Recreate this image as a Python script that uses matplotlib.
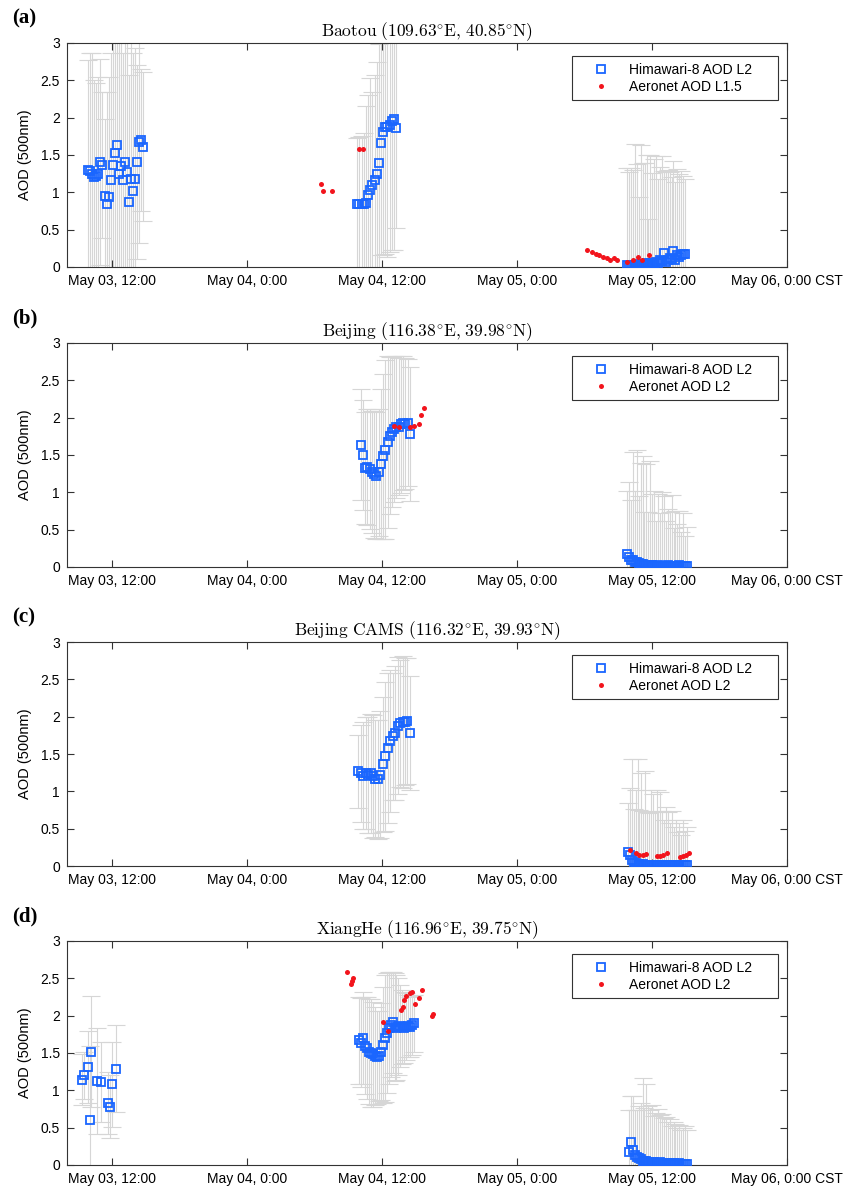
import numpy as np
import pandas as pd
import matplotlib
matplotlib.use("Agg")
import matplotlib.pyplot as plt

plt.rcParams['font.family'] = ['Liberation Sans', 'DejaVu Sans']
plt.rcParams['mathtext.fontset'] = 'cm'

hw_color = '#1a66ff'
ae_color = '#f2141c'
bar_color = '#d6d6d6'

# ---- (a) Baotou ----
a_hw1_span = ("2017-05-03 09:53", "2017-05-03 14:47")
a_hw1_aod = [1.30, 1.28, 1.25, 1.20, 1.22, 1.25, 1.41, 1.37, 0.95, 0.84, 0.94, 1.16, 1.37, 1.53,
             1.64, 1.25, 1.35, 1.16, 1.41, 1.27, 0.87, 1.18, 1.02, 1.18, 1.41, 1.67, 1.70, 1.61]
a_hw1_err = [1.47, 1.58, 1.61, 1.30, 1.25, 1.30, 1.38, 0.98, 1.03, 1.50, 1.60, 1.70, 1.80, 1.70,
             1.65, 1.90, 1.80, 1.70, 1.75, 1.80, 1.70, 1.90, 1.85, 1.75, 1.30, 1.35, 0.95, 1.00]
a_hw2_span = ("2017-05-04 09:48", "2017-05-04 13:15")
a_hw2_aod = [0.84, 0.84, 0.84, 0.85, 0.86, 0.96, 1.03, 1.10, 1.17, 1.25, 1.39, 1.66, 1.81, 1.87,
             1.88, 1.90, 1.95, 1.98, 1.86]
a_hw2_err = [0.89, 0.90, 0.92, 0.95, 1.30, 1.35, 1.50, 1.25, 1.40, 1.50, 1.60, 1.50, 1.65, 1.70,
             1.75, 1.70, 1.72, 1.75, 1.34]
a_hw3_span = ("2017-05-05 09:48", "2017-05-05 14:56")
a_hw3_aod = [0.03, 0.02, 0.03, 0.02, 0.03, 0.03, 0.04, 0.03, 0.04, 0.04, 0.05, 0.04, 0.05, 0.06,
             0.05, 0.07, 0.06, 0.09, 0.08, 0.19, 0.07, 0.10, 0.12, 0.11, 0.22, 0.09, 0.16, 0.14,
             0.16, 0.17, 0.18]
a_hw3_err = [1.30, 1.25, 1.30, 1.28, 1.62, 1.35, 0.90, 1.60, 1.35, 1.35, 1.45, 0.60, 1.45, 1.20,
             1.40, 1.42, 1.12, 1.25, 1.40, 1.10, 1.20, 1.20, 1.15, 1.10, 1.20, 1.05, 1.15, 1.10,
             1.12, 1.05, 1.00]
a_ae_time = ["2017-05-04 06:35", "2017-05-04 06:47", "2017-05-04 07:32", "2017-05-04 09:57",
             "2017-05-04 10:20", "2017-05-05 06:15", "2017-05-05 06:38", "2017-05-05 07:01",
             "2017-05-05 07:19", "2017-05-05 07:37", "2017-05-05 07:58", "2017-05-05 08:16",
             "2017-05-05 08:37", "2017-05-05 08:55", "2017-05-05 09:48", "2017-05-05 10:17",
             "2017-05-05 10:47", "2017-05-05 11:05", "2017-05-05 11:46"]
a_ae_aod = [1.11, 1.02, 1.02, 1.58, 1.58, 0.23, 0.20, 0.18, 0.16, 0.13, 0.12, 0.10, 0.12, 0.09,
            0.07, 0.09, 0.13, 0.10, 0.16]

# ---- (b) Beijing ----
b_hw1_span = ("2017-05-04 10:06", "2017-05-04 14:29")
b_hw1_aod = [1.64, 1.50, 1.32, 1.34, 1.31, 1.27, 1.24, 1.22, 1.27, 1.38, 1.48, 1.57, 1.67, 1.76,
             1.81, 1.85, 1.87, 1.88, 1.91, 1.93, 1.92, 1.93, 1.78]
b_hw1_err = [0.74, 0.73, 0.75, 0.78, 0.80, 0.82, 0.85, 0.85, 0.85, 1.00, 1.10, 1.20, 1.15, 1.05,
             1.00, 0.98, 0.95, 0.92, 0.92, 0.90, 0.88, 0.85, 0.90]
b_hw2_span = ("2017-05-05 09:47", "2017-05-05 15:07")
b_hw2_aod = [0.17, 0.14, 0.10, 0.09, 0.07, 0.07, 0.05, 0.04, 0.04, 0.03, 0.03, 0.03, 0.02, 0.03,
             0.02, 0.02, 0.03, 0.02, 0.02, 0.02, 0.02, 0.03, 0.02, 0.02, 0.02, 0.02, 0.02, 0.03,
             0.02, 0.02, 0.02, 0.02]
b_hw2_err = [0.85, 1.00, 0.80, 1.45, 0.95, 1.50, 0.90, 1.35, 1.45, 0.70, 1.35, 0.70, 1.40, 0.95,
             1.00, 0.60, 0.95, 0.70, 0.98, 0.93, 0.60, 0.75, 0.72, 0.95, 0.50, 0.73, 0.55, 0.72,
             0.45, 0.70, 0.40, 0.52]
b_ae_time = ["2017-05-04 13:04", "2017-05-04 13:29", "2017-05-04 14:29", "2017-05-04 14:51",
             "2017-05-04 15:17", "2017-05-04 15:30", "2017-05-04 15:44"]
b_ae_aod = [1.89, 1.87, 1.87, 1.89, 1.92, 2.03, 2.13]

# ---- (c) Beijing CAMS ----
c_hw1_span = ("2017-05-04 09:53", "2017-05-04 14:29")
c_hw1_aod = [1.27, 1.24, 1.21, 1.25, 1.22, 1.24, 1.20, 1.17, 1.16, 1.22, 1.36, 1.47, 1.58, 1.67,
             1.74, 1.78, 1.88, 1.91, 1.93, 1.93, 1.94, 1.78]
c_hw1_err = [0.49, 0.65, 0.72, 0.75, 0.78, 0.80, 0.82, 0.78, 0.80, 0.85, 0.90, 1.00, 1.00, 0.95,
             0.85, 0.90, 0.92, 0.85, 0.88, 0.85, 0.84, 0.76]
c_hw2_span = ("2017-05-05 09:52", "2017-05-05 15:07")
c_hw2_aod = [0.19, 0.15, 0.08, 0.06, 0.04, 0.03, 0.03, 0.02, 0.03, 0.02, 0.02, 0.01, 0.02, 0.02,
             0.01, 0.02, 0.02, 0.01, 0.02, 0.02, 0.01, 0.02, 0.02, 0.01, 0.02, 0.02, 0.01, 0.02,
             0.02, 0.01, 0.02, 0.02]
c_hw2_err = [0.65, 0.90, 1.35, 0.70, 0.98, 1.40, 0.72, 1.22, 0.70, 1.25, 0.70, 0.70, 1.00, 0.95,
             0.72, 1.00, 0.70, 0.98, 0.72, 0.60, 0.78, 0.70, 0.55, 0.72, 0.50, 0.60, 0.45, 0.55,
             0.40, 0.60, 0.45, 0.50]
c_ae_time = ["2017-05-05 10:03", "2017-05-05 10:35", "2017-05-05 10:52", "2017-05-05 11:14",
             "2017-05-05 11:28", "2017-05-05 12:25", "2017-05-05 12:43", "2017-05-05 13:00",
             "2017-05-05 13:21", "2017-05-05 14:29", "2017-05-05 14:47", "2017-05-05 15:01",
             "2017-05-05 15:19"]
c_ae_aod = [0.22, 0.17, 0.15, 0.15, 0.16, 0.13, 0.13, 0.15, 0.17, 0.12, 0.13, 0.15, 0.17]

# ---- (d) XiangHe ----
d_hw1_time = ["2017-05-03 09:20", "2017-05-03 09:30", "2017-05-03 09:50", "2017-05-03 10:00",
              "2017-05-03 10:10", "2017-05-03 10:40", "2017-05-03 11:00", "2017-05-03 11:40",
              "2017-05-03 11:50", "2017-05-03 12:00", "2017-05-03 12:20"]
d_hw1_aod = [1.14, 1.20, 1.31, 0.60, 1.52, 1.13, 1.11, 0.83, 0.78, 1.08, 1.29]
d_hw1_err = [0.34, 0.32, 0.48, 1.00, 0.74, 0.71, 0.54, 0.41, 0.42, 0.57, 0.58]
d_hw2_span = ("2017-05-04 09:59", "2017-05-04 14:51")
d_hw2_aod = [1.67, 1.64, 1.70, 1.60, 1.57, 1.52, 1.50, 1.48, 1.46, 1.44, 1.46, 1.52, 1.61, 1.70,
             1.77, 1.84, 1.88, 1.91, 1.85, 1.84, 1.85, 1.86, 1.85, 1.84, 1.85, 1.86, 1.85, 1.87,
             1.90]
d_hw2_err = [0.58, 0.60, 0.62, 0.65, 0.68, 0.70, 0.72, 0.70, 0.65, 0.62, 0.60, 0.65, 0.78, 0.85,
             0.80, 0.75, 0.70, 0.68, 0.72, 0.70, 0.65, 0.55, 0.50, 0.48, 0.45, 0.42, 0.40, 0.40,
             0.38]
d_hw3_span = ("2017-05-05 09:57", "2017-05-05 15:07")
d_hw3_aod = [0.17, 0.31, 0.20, 0.14, 0.11, 0.09, 0.08, 0.06, 0.05, 0.05, 0.04, 0.04, 0.03, 0.04,
             0.03, 0.03, 0.04, 0.03, 0.03, 0.02, 0.03, 0.03, 0.02, 0.03, 0.02, 0.02, 0.03, 0.02,
             0.02, 0.02, 0.02]
d_hw3_err = [0.57, 0.62, 0.73, 0.60, 0.63, 0.70, 0.75, 1.11, 0.72, 1.03, 0.75, 0.70, 0.77, 0.62,
             0.66, 0.72, 0.63, 0.65, 0.60, 0.62, 0.55, 0.58, 0.50, 0.55, 0.53, 0.48, 0.50, 0.45,
             0.48, 0.50, 0.45]
d_ae_time = ["2017-05-04 08:55", "2017-05-04 09:13", "2017-05-04 09:18", "2017-05-04 09:27",
             "2017-05-04 12:07", "2017-05-04 12:34", "2017-05-04 13:40", "2017-05-04 13:50",
             "2017-05-04 13:57", "2017-05-04 14:08", "2017-05-04 14:29", "2017-05-04 14:38",
             "2017-05-04 14:56", "2017-05-04 15:19", "2017-05-04 15:32", "2017-05-04 16:25",
             "2017-05-04 16:32"]
d_ae_aod = [2.59, 2.42, 2.47, 2.51, 1.91, 1.80, 2.08, 2.11, 2.21, 2.26, 2.31, 2.32, 2.16, 2.24,
            2.35, 2.00, 2.02]

titles = [r"$\mathrm{Baotou\ (109.63^{\circ}E{,}\ 40.85^{\circ}N)}$",
          r"$\mathrm{Beijing\ (116.38^{\circ}E{,}\ 39.98^{\circ}N)}$",
          r"$\mathrm{Beijing\ CAMS\ (116.32^{\circ}E{,}\ 39.93^{\circ}N)}$",
          r"$\mathrm{XiangHe\ (116.96^{\circ}E{,}\ 39.75^{\circ}N)}$"]
panel_tags = ["(a)", "(b)", "(c)", "(d)"]
hw_label = "Himawari-8 AOD L2"
ae_labels = ["Aeronet AOD L1.5", "Aeronet AOD L2", "Aeronet AOD L2", "Aeronet AOD L2"]
xtick_times = ["2017-05-03 12:00", "2017-05-04 00:00", "2017-05-04 12:00",
               "2017-05-05 00:00", "2017-05-05 12:00", "2017-05-06 00:00"]
xtick_labels = ["May 03, 12:00", "May 04, 0:00", "May 04, 12:00",
                "May 05, 0:00", "May 05, 12:00", "May 06, 0:00 CST"]
yticks = [0, 0.5, 1, 1.5, 2, 2.5, 3]
ytick_labels = ["0", "0.5", "1", "1.5", "2", "2.5", "3"]


def hw_times(span, n):
    # scan times spread over the observed window of each cluster
    return pd.date_range(span[0], span[1], periods=n)


hw_sets = [
    [(hw_times(a_hw1_span, len(a_hw1_aod)), a_hw1_aod, a_hw1_err),
     (hw_times(a_hw2_span, len(a_hw2_aod)), a_hw2_aod, a_hw2_err),
     (hw_times(a_hw3_span, len(a_hw3_aod)), a_hw3_aod, a_hw3_err)],
    [(hw_times(b_hw1_span, len(b_hw1_aod)), b_hw1_aod, b_hw1_err),
     (hw_times(b_hw2_span, len(b_hw2_aod)), b_hw2_aod, b_hw2_err)],
    [(hw_times(c_hw1_span, len(c_hw1_aod)), c_hw1_aod, c_hw1_err),
     (hw_times(c_hw2_span, len(c_hw2_aod)), c_hw2_aod, c_hw2_err)],
    [(pd.to_datetime(d_hw1_time), d_hw1_aod, d_hw1_err),
     (hw_times(d_hw2_span, len(d_hw2_aod)), d_hw2_aod, d_hw2_err),
     (hw_times(d_hw3_span, len(d_hw3_aod)), d_hw3_aod, d_hw3_err)],
]
ae_sets = [(a_ae_time, a_ae_aod), (b_ae_time, b_ae_aod), (c_ae_time, c_ae_aod), (d_ae_time, d_ae_aod)]

W, H = 846, 1192
fig = plt.figure(figsize=(W / 100, H / 100), dpi=100)

ax_left, ax_w, ax_h = 67, 720, 224
ax_tops = [43, 343, 642, 941]
pad = "     "  # extra room on the right side of the legend box

for k in range(4):
    top = ax_tops[k]
    ax = fig.add_axes([ax_left / W, 1 - (top + ax_h) / H, ax_w / W, ax_h / H])

    # error bars first, in light grey
    for t, v, e in hw_sets[k]:
        ax.errorbar(t, v, yerr=e, fmt="none", ecolor=bar_color, elinewidth=0.8,
                    capsize=6.5, capthick=0.8, zorder=1)
    for i, (t, v, e) in enumerate(hw_sets[k]):
        ax.plot(t, v, "s", mfc="none", mec=hw_color, ms=6.4, mew=1.3, zorder=3,
                label=hw_label + pad if i == 0 else None)
    at, av = ae_sets[k]
    ax.plot(pd.to_datetime(at), av, "o", color=ae_color, ms=3.6, mew=0, zorder=4,
            label=ae_labels[k] + pad)

    ax.set_xlim(pd.Timestamp("2017-05-03 08:00"), pd.Timestamp("2017-05-06 00:00"))
    ax.set_ylim(0, 3)
    ax.set_xticks(pd.to_datetime(xtick_times))
    ax.set_xticklabels(xtick_labels, fontsize=10)
    ax.set_yticks(yticks)
    ax.set_yticklabels(ytick_labels, fontsize=10)
    ax.tick_params(direction="in", top=True, right=True, length=5, width=0.8,
                   color="#333333", pad=5)
    for sp in ax.spines.values():
        sp.set_color("#333333")
        sp.set_linewidth(0.8)
    ax.set_ylabel("AOD (500nm)", fontsize=10.5, labelpad=6)
    ax.set_title(titles[k], fontsize=12.5, pad=5)

    leg = ax.legend(loc="upper right", bbox_to_anchor=(0.9875, 0.94), fontsize=10,
                    fancybox=False, framealpha=1, edgecolor="#333333",
                    handlelength=3.4, handletextpad=0.3, borderpad=0.45,
                    labelspacing=0.25, borderaxespad=0)
    leg.get_frame().set_linewidth(0.8)

    fig.text(12 / W, 1 - (top - 25) / H, panel_tags[k], ha="left", va="center",
             family="Liberation Serif", fontweight="bold", fontsize=15)

fig.savefig("out.png", dpi=100)
